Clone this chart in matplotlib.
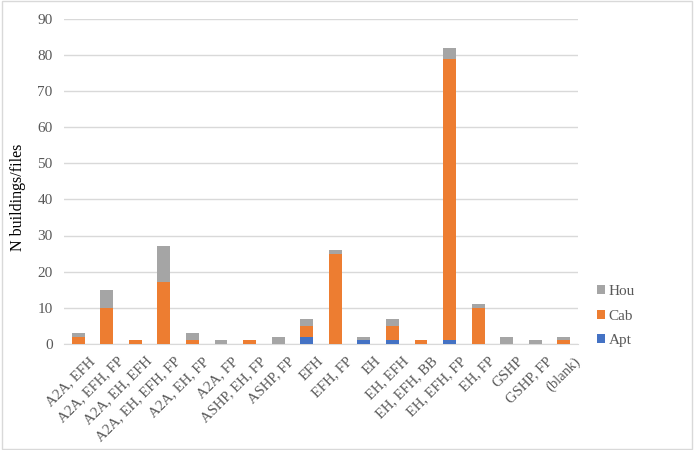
import numpy as np
import matplotlib.pyplot as plt
from matplotlib.patches import Rectangle
from matplotlib.transforms import ScaledTranslation

categories = ["A2A, EFH", "A2A, EFH, FP", "A2A, EH, EFH", "A2A, EH, EFH, FP",
              "A2A, EH, FP", "A2A, FP", "ASHP, EH, FP", "ASHP, FP", "EFH",
              "EFH, FP", "EH", "EH, EFH", "EH, EFH, BB", "EH, EFH, FP",
              "EH, FP", "GSHP", "GSHP, FP", "(blank)"]
apt = [0, 0, 0, 0, 0, 0, 0, 0, 2, 0, 1, 1, 0, 1, 0, 0, 0, 0]
cab = [2, 10, 1, 17, 1, 0, 1, 0, 3, 25, 0, 4, 1, 78, 10, 0, 0, 1]
hou = [1, 5, 0, 10, 2, 1, 0, 2, 2, 1, 1, 2, 0, 3, 1, 2, 1, 1]

plt.rcParams['font.family'] = ['Liberation Serif', 'DejaVu Serif']

fig = plt.figure(figsize=(6.94, 4.5), dpi=100)
ax = fig.add_axes([0.092, 0.236, 0.741, 0.722])

x = np.arange(len(categories))
apt = np.array(apt)
cab = np.array(cab)
hou = np.array(hou)
w = 0.45
ax.bar(x, apt, w, color="#4472C4", label="Apt", zorder=3)
ax.bar(x, cab, w, bottom=apt, color="#ED7D31", label="Cab", zorder=3)
ax.bar(x, hou, w, bottom=apt + cab, color="#A5A5A5", label="Hou", zorder=3)

ax.set_ylim(0, 90)
ax.set_yticks(range(0, 91, 10))
ax.set_xlim(-0.5, len(categories) - 0.5)
ax.set_xticks(x)
ax.tick_params(axis="both", length=0, colors="#595959")
ax.tick_params(axis="y", labelsize=11, pad=8)
ax.tick_params(axis="x", pad=2)
ax.set_xticklabels(categories, rotation=45, ha="right", va="top",
                   rotation_mode="anchor", fontsize=10.5)
# shift the rotated labels right/down like Excel does
shift = ScaledTranslation(0.10, -0.08, fig.dpi_scale_trans)
for lab in ax.get_xticklabels():
    lab.set_transform(lab.get_transform() + shift)
ax.grid(axis="y", color="#D9D9D9", linewidth=1, zorder=0)
for s in ["top", "right", "left"]:
    ax.spines[s].set_visible(False)
ax.spines["bottom"].set_color("#D9D9D9")
ax.set_ylabel("N buildings/files", fontsize=11.5, color="#000000", labelpad=8)
ax.yaxis.label.set_y(0.45)

h, l = ax.get_legend_handles_labels()
ax.legend(h[::-1], l[::-1], loc="center left", bbox_to_anchor=(1.01, 0.085),
          frameon=False, fontsize=11, handlelength=0.55, handleheight=0.55,
          handletextpad=0.2, labelspacing=0.75, labelcolor="#595959")

fig.patches.append(Rectangle((0.003, 0.003), 0.994, 0.994, transform=fig.transFigure,
                             fill=False, edgecolor="#D9D9D9", linewidth=1))

fig.savefig("out.png", dpi=100)
